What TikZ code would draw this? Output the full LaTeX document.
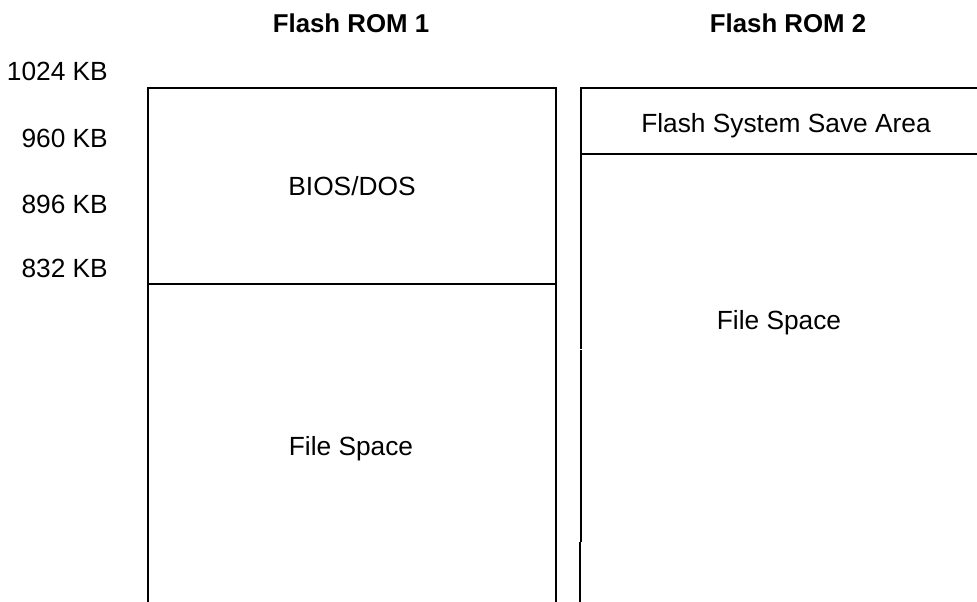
\documentclass[tikz,border=0pt]{standalone}
\usepackage{fontspec}
\setmainfont{Liberation Sans}
\begin{document}
\begin{tikzpicture}[x=1pt,y=-1pt,
  lbl/.style={inner sep=0pt,font=\fontsize{26.3}{30}\selectfont},
  ttl/.style={lbl,font=\fontsize{25.8}{30}\selectfont\bfseries},
  edge/.style={line width=2.2pt}]
\useasboundingbox (0,0) rectangle (977,602);
% titles
\node[ttl,anchor=base] (t1) at (351,33) {Flash ROM 1};
\node[ttl,anchor=base] (t2) at (788,33) {Flash ROM 2};
% address labels
\node[lbl,anchor=base east] (a1) at (108,81) {1024 KB};
\node[lbl,anchor=base east] (a2) at (108,147) {960 KB};
\node[lbl,anchor=base east] (a3) at (108,213) {896 KB};
\node[lbl,anchor=base east] (a4) at (108,277) {832 KB};
% box contents
\node[lbl,anchor=base] (bios) at (352,195) {BIOS/DOS};
\node[lbl,anchor=base] (fs1) at (351,455) {File Space};
\node[lbl,anchor=base] (fssa) at (786,132) {Flash System Save Area};
\node[lbl,anchor=base] (fs2) at (779,329) {File Space};
% coordinates
\coordinate (l1t) at (148,88);
\coordinate (r1t) at (556,88);
\coordinate (l2t) at (581,88);
\coordinate (r2t) at (977,88);
% Flash ROM 1 box
\draw[edge] (148,602) -- (148,350);
\draw[edge,line cap=rect] (148,348.5) -- (l1t) -- (r1t) -- (556,348.5);
\draw[edge] (556,350) -- (556,602);
\draw[edge] (148,284) -- (556,284);
% Flash ROM 2 box
\draw[edge] (r2t) -- (l2t) -- (581,348.5);
\draw[edge] (581,350) -- (581,542);
\draw[edge] (580,542) -- (580,602);
\draw[edge] (581,154) -- (977,154);
\end{tikzpicture}
\end{document}
